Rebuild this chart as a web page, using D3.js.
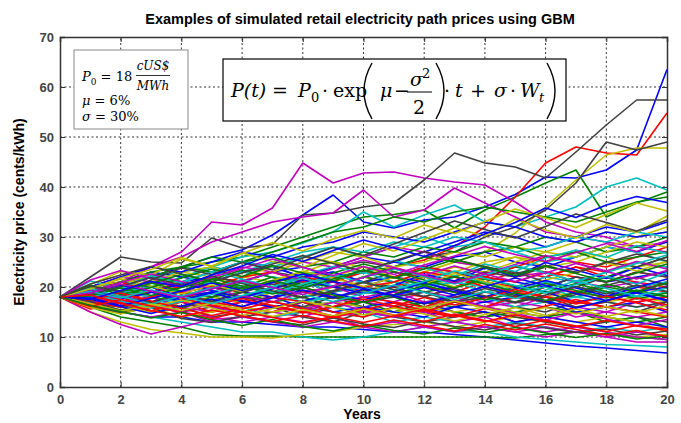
<!DOCTYPE html>
<html>
<head>
<meta charset="utf-8">
<script src="https://cdn.jsdelivr.net/npm/d3@7"></script>
<style>
  body { margin: 0; background: #fff; }
  svg { display: block; }
</style>
</head>
<body>
<svg id="chart" width="681" height="423"></svg>
<script>
const width = 681, height = 423;
const margin = { left: 60, right: 14, top: 37, bottom: 36 };

// years on the x axis
const years = [0, 1, 2, 3, 4, 5, 6, 7, 8, 9, 10, 11, 12, 13, 14, 15, 16, 17, 18, 19, 20];
const xTicks = [0, 2, 4, 6, 8, 10, 12, 14, 16, 18, 20];
const yTicks = [0, 10, 20, 30, 40, 50, 60, 70];

// MATLAB default line colour order (b g r c m y k)
const colorOrder = ["#0000ff", "#008000", "#ff0000", "#00bfbf", "#bf00bf", "#bfbf00", "#404040"];

// paths that stand out at the top and bottom of the fan
const outerPaths = [
  [18, 19, 21, 22, 24, 26, 27.4, 30.4, 34.4, 38.4, 33, 31.8, 33.4, 34, 36, 38.5, 42, 41.8, 43.4, 47.4, 63.5],
  [18, 19, 20, 22, 24, 25, 26, 28, 30, 32, 34, 34.5, 35.4, 31.8, 35.4, 38, 40.8, 43.4, 34, 36.8, 39],
  [18, 17, 18, 19, 18, 20, 19, 21, 22, 21, 23, 24, 25.4, 28, 32, 38, 44.8, 48, 46.8, 46.4, 54.8],
  [18, 19, 20, 22, 23, 24, 26, 27, 28.8, 31, 35, 32, 34.4, 36.4, 33, 32, 34, 36, 40, 41.8, 39.4],
  [18, 19, 21, 24, 27, 33, 32.4, 35.8, 44.8, 40.8, 42.8, 43, 41.8, 41, 40.4, 37, 33, 31, 30, 28, 29],
  [18, 17, 16, 17, 18, 19, 18, 20, 21, 20, 22, 21, 23, 25, 27, 30.8, 36, 41.4, 46.4, 47.8, 47.8],
  [18, 22, 26, 25, 24.8, 29.8, 27.8, 28.5, 34.4, 34.8, 36, 36.8, 41.4, 46.8, 44.8, 44, 41.8, 47, 52.4, 57.4, 57.4],
  [18, 16, 15, 14, 14, 13, 13, 12.5, 12, 12, 11.5, 11, 11, 10.5, 10, 9.4, 8.8, 8.2, 7.8, 7.3, 6.8],
  [18, 16, 14, 13, 12, 10.5, 10.2, 10.2, 10, 10, 10, 10, 10, 10, 10, 9.8, 10.5, 11, 10.5, 10, 9.5],
  [18, 19, 17, 18, 16, 17, 15, 14, 15, 16, 17, 16, 15, 14, 15, 13, 14, 16, 17, 19, 21],
  [18, 17, 15, 14, 13, 12, 11, 11, 10, 9.4, 10, 11, 12, 11, 11, 10, 9.5, 9, 8.5, 8.3, 8],
  [18, 20, 22, 24, 26, 29, 31, 33, 34, 34.8, 39.4, 34, 35.4, 39.8, 36.8, 34, 31, 30, 29, 28, 27],
  [18, 15, 13, 11.5, 10.8, 10, 10, 9.8, 10.5, 11, 12, 12.5, 13, 12, 13, 14, 13, 12, 11, 10, 10.5],
  [18, 19, 20, 21, 20, 22, 21, 23, 22, 24, 25, 24, 26, 27, 30, 32, 35.4, 40.8, 49, 47.4, 49]
];

// the dense middle of the fan
const middlePaths = [
  [18, 19, 20, 19, 21, 22, 21, 23, 24, 22, 23, 25, 24, 26, 27, 25, 24, 26, 28, 27, 29],
  [18, 17, 18, 20, 19, 18, 20, 21, 19, 20, 22, 21, 19, 20, 22, 24, 23, 21, 22, 24, 26],
  [18, 18, 17, 19, 20, 21, 19, 18, 20, 21, 19, 20, 22, 23, 21, 20, 22, 24, 23, 25, 24],
  [18, 19, 21, 20, 22, 24, 23, 25, 27, 28, 26, 28, 30, 28, 29, 27, 25, 26, 28, 27, 25],
  [18, 15, 12.5, 10.6, 12, 13.5, 14, 15, 14, 16, 17, 16, 15, 17, 16, 18, 17, 16, 15, 17, 18],
  [18, 19, 18, 20, 21, 20, 22, 21, 23, 22, 24, 23, 22, 24, 23, 25, 27, 26, 28, 30, 31],
  [18, 16, 17, 16, 15, 16, 14, 15, 16, 15, 14, 16, 17, 15, 14, 16, 15, 17, 16, 15, 17],
  [18, 20, 21, 23, 22, 21, 23, 24, 22, 24, 26, 25, 27, 29, 31, 30, 28, 30, 32, 31, 33],
  [18, 17, 16, 18, 17, 19, 18, 16, 17, 18, 16, 15, 17, 16, 18, 17, 19, 18, 20, 19, 18],
  [18, 18, 19, 17, 18, 20, 19, 21, 20, 18, 19, 21, 20, 19, 21, 23, 22, 24, 22, 21, 20],
  [18, 19, 17, 16, 18, 19, 21, 20, 22, 23, 21, 22, 20, 21, 19, 20, 22, 21, 23, 25, 24],
  [18, 17, 19, 18, 16, 15, 17, 16, 15, 17, 18, 17, 19, 18, 17, 16, 18, 20, 19, 18, 16],
  [18, 20, 19, 21, 23, 22, 20, 21, 23, 25, 24, 22, 23, 25, 24, 26, 25, 27, 26, 24, 25],
  [18, 16, 15, 17, 16, 14, 15, 16, 14, 13, 15, 14, 13, 14, 15, 14, 13, 12, 13, 14, 13],
  [18, 19, 20, 22, 21, 23, 25, 24, 22, 23, 21, 22, 24, 23, 22, 21, 20, 22, 21, 22, 23],
  [18, 17, 18, 17, 19, 18, 17, 19, 21, 20, 19, 18, 16, 17, 16, 15, 16, 15, 14, 13, 14],
  [18, 19, 18, 17, 18, 16, 17, 18, 19, 18, 17, 19, 18, 20, 22, 21, 23, 22, 21, 23, 22],
  [18, 16, 17, 15, 16, 17, 16, 14, 15, 16, 15, 13, 14, 13, 12, 13, 12, 11, 12, 11, 12],
  [18, 20, 22, 21, 20, 22, 24, 23, 25, 24, 26, 28, 27, 25, 24, 22, 23, 21, 20, 21, 19],
  [18, 17, 16, 15, 17, 18, 17, 19, 18, 20, 19, 21, 22, 20, 21, 19, 18, 19, 17, 18, 17],
  [18, 19, 21, 20, 19, 17, 18, 20, 21, 19, 20, 19, 21, 22, 24, 23, 21, 20, 22, 20, 21],
  [18, 18, 16, 17, 18, 17, 19, 18, 16, 17, 16, 17, 15, 16, 17, 18, 17, 15, 16, 17, 15],
  [18, 19, 18, 20, 19, 21, 20, 22, 21, 20, 22, 24, 26, 25, 27, 28, 30, 29, 27, 28, 30],
  [18, 17, 18, 16, 17, 15, 16, 15, 17, 16, 18, 17, 16, 18, 19, 18, 20, 19, 18, 20, 19],
  [18, 20, 19, 18, 20, 21, 23, 22, 21, 19, 20, 18, 19, 17, 18, 16, 17, 18, 17, 16, 17],
  [18, 17, 15, 16, 15, 14, 13, 14, 13, 14, 12, 13, 12, 13, 12, 11, 12, 11, 10, 11, 10],
  [18, 19, 20, 21, 23, 24, 22, 23, 25, 27, 26, 24, 25, 27, 26, 28, 27, 29, 31, 30, 32],
  [18, 16, 17, 18, 19, 18, 20, 19, 18, 19, 21, 20, 18, 17, 19, 18, 20, 22, 21, 23, 22],
  [18, 18, 19, 20, 18, 19, 17, 18, 20, 21, 20, 22, 21, 19, 18, 20, 19, 17, 18, 19, 20],
  [18, 17, 16, 17, 16, 18, 19, 17, 18, 16, 17, 15, 16, 15, 14, 15, 14, 15, 13, 14, 12],
  [18, 20, 21, 19, 20, 22, 21, 20, 22, 21, 23, 22, 24, 23, 22, 24, 26, 25, 24, 26, 28],
  [18, 17, 19, 20, 19, 17, 18, 19, 17, 18, 19, 18, 20, 21, 20, 19, 21, 20, 19, 18, 19],
  [18, 19, 17, 18, 19, 20, 18, 17, 19, 20, 18, 19, 17, 18, 16, 17, 16, 14, 15, 14, 15],
  [18, 16, 15, 16, 14, 15, 16, 15, 16, 17, 16, 15, 16, 15, 16, 15, 14, 13, 14, 13, 11],
  [18, 19, 20, 19, 21, 20, 19, 21, 22, 20, 21, 23, 22, 21, 23, 22, 24, 23, 25, 24, 26],
  [18, 17, 18, 19, 17, 16, 15, 16, 17, 15, 16, 15, 14, 16, 15, 13, 14, 13, 12, 13, 12],
  [18, 19, 21, 22, 24, 23, 25, 26, 24, 25, 27, 26, 28, 27, 29, 28, 26, 27, 25, 26, 27],
  [18, 17, 16, 18, 19, 17, 16, 18, 17, 15, 14, 16, 15, 17, 16, 18, 17, 19, 18, 17, 18],
  [18, 18, 20, 19, 18, 20, 21, 19, 20, 22, 23, 21, 20, 22, 21, 19, 20, 18, 19, 20, 21],
  [18, 16, 17, 16, 17, 16, 15, 16, 15, 14, 15, 14, 15, 13, 14, 12, 11, 12, 11, 10, 9.5],
  [18, 20, 21, 22, 21, 23, 22, 24, 26, 25, 23, 24, 22, 23, 25, 26, 24, 25, 27, 29, 28],
  [18, 19, 18, 17, 16, 17, 18, 17, 16, 18, 17, 18, 19, 17, 18, 17, 18, 16, 17, 16, 17],
  [18, 20, 22, 24, 23, 25, 27, 26, 28, 29, 31, 30, 29, 31, 33, 32, 30, 29, 31, 30, 31],
  [18, 19, 21, 23, 24, 26, 25, 27, 29, 31, 32, 34, 33, 35, 36, 35, 34, 33, 35, 37, 38],
  [18, 17, 18, 19, 21, 20, 22, 23, 21, 22, 20, 21, 23, 22, 20, 19, 18, 17, 16, 15, 14],
  [18, 19, 20, 22, 21, 23, 25, 24, 26, 28, 27, 29, 28, 30, 29, 27, 28, 30, 29, 31, 30],
  [18, 16, 15, 14, 15, 13, 14, 13, 12, 13, 12, 11, 12, 11, 12, 11, 10, 11, 10, 9, 9]
];

// more of the tangled middle band
const extraPaths = [
  [18, 20.5, 23.1, 22.4, 25.6, 24.2, 26.8, 25.1, 23.9, 26.3, 28.7, 27.2, 29.5, 31.8, 30.2, 33.6, 31.4, 29.8, 32.5, 30.9, 34.2],
  [18, 16.2, 14.8, 15.9, 13.7, 12.9, 14.2, 13.1, 12.4, 13.8, 12.6, 11.9, 13.2, 12.1, 11.4, 12.7, 11.8, 10.9, 11.6, 10.4, 11.2],
  [18, 19.4, 17.6, 18.9, 20.7, 19.3, 17.8, 19.6, 21.4, 20.1, 18.7, 20.3, 22.6, 21.2, 23.8, 22.1, 24.9, 23.4, 21.7, 23.9, 22.3],
  [18, 17.3, 19.1, 20.8, 19.2, 21.5, 23.4, 21.9, 20.3, 22.8, 24.6, 23.1, 21.4, 19.8, 21.6, 20.2, 18.9, 20.7, 19.1, 17.6, 18.8],
  [18, 15.6, 16.9, 15.2, 17.1, 16.4, 14.9, 16.3, 15.1, 13.9, 15.4, 16.8, 15.3, 14.1, 15.7, 14.4, 16.2, 17.5, 15.9, 17.8, 16.4],
  [18, 21.2, 19.7, 22.3, 20.8, 23.1, 21.6, 19.9, 22.4, 24.1, 22.7, 25.3, 23.8, 22.2, 24.6, 23.1, 25.8, 27.4, 25.9, 28.3, 26.7],
  [18, 16.8, 18.3, 16.5, 15.1, 16.7, 18.2, 17.1, 15.6, 16.9, 15.3, 14.2, 15.8, 17.3, 16.1, 14.7, 13.4, 14.9, 13.6, 12.3, 13.5],
  [18, 19.8, 21.6, 20.2, 18.6, 20.4, 19.1, 21.3, 23.2, 21.8, 20.1, 21.9, 20.5, 22.7, 21.1, 19.6, 21.4, 22.9, 24.8, 23.2, 25.1],
  [18, 17.1, 15.4, 16.8, 18.4, 17.2, 18.9, 20.6, 19.3, 17.7, 19.4, 18.1, 16.6, 17.9, 19.7, 18.3, 16.9, 18.5, 20.3, 21.9, 20.4],
  [18, 18.9, 20.4, 19.1, 17.4, 18.8, 17.3, 15.9, 17.2, 18.7, 17.4, 19.2, 20.8, 19.4, 17.9, 19.6, 21.3, 19.8, 18.2, 19.9, 21.6],
  [18, 20.1, 18.5, 19.9, 21.8, 23.6, 22.1, 24.3, 22.8, 21.2, 23.4, 21.9, 20.4, 22.1, 20.6, 19.1, 20.7, 19.3, 17.8, 19.4, 18.1],
  [18, 16.4, 17.9, 19.3, 17.8, 16.2, 17.7, 16.3, 14.8, 16.1, 17.6, 16.2, 17.9, 16.4, 17.8, 19.5, 18.1, 16.6, 18.2, 16.8, 15.4],
  [18, 18.6, 17.2, 15.8, 17.1, 18.5, 20.2, 18.8, 20.6, 22.3, 20.9, 19.4, 21.1, 23.2, 21.7, 20.3, 18.8, 20.5, 22.1, 20.6, 22.9],
  [18, 19.2, 20.9, 22.6, 21.1, 19.6, 21.2, 22.9, 21.5, 23.7, 25.4, 23.9, 22.4, 24.2, 22.6, 24.5, 26.3, 24.8, 23.2, 25.1, 23.6],
  [18, 15.9, 14.6, 16.1, 17.4, 15.8, 14.3, 15.7, 17.2, 15.9, 14.4, 15.8, 14.6, 13.2, 14.5, 15.9, 14.3, 15.6, 14.1, 15.4, 14.2],
  [18, 20.6, 22.4, 24.1, 22.6, 21.1, 22.8, 24.6, 26.3, 24.7, 23.1, 25.2, 27.1, 25.5, 24.1, 22.6, 24.3, 22.8, 24.9, 26.6, 25.2],
  [18, 17.6, 16.1, 14.7, 16.2, 17.6, 16.1, 17.8, 19.4, 17.9, 19.6, 18.2, 16.7, 18.4, 20.1, 18.6, 17.2, 15.8, 17.3, 18.9, 17.4],
  [18, 18.2, 19.8, 18.3, 19.9, 21.7, 20.2, 18.6, 19.9, 18.4, 16.9, 18.5, 20.3, 18.9, 17.4, 18.8, 17.3, 18.9, 20.6, 19.1, 20.8],
  [18, 17.4, 18.8, 17.2, 15.7, 14.3, 15.6, 17.1, 15.7, 14.2, 15.8, 14.4, 13.1, 14.6, 13.3, 12.1, 13.4, 12.2, 11.1, 12.3, 11.6],
  [18, 19.7, 18.1, 16.6, 18.2, 19.8, 21.5, 20.1, 21.8, 20.2, 21.9, 23.6, 22.1, 20.6, 22.4, 24.3, 22.8, 21.2, 22.9, 24.7, 26.4],
  [18, 21.4, 23.3, 21.7, 20.2, 21.9, 23.7, 25.6, 23.9, 22.3, 24.1, 22.5, 24.4, 26.2, 28.1, 26.5, 25.1, 26.9, 28.7, 27.1, 29.3],
  [18, 16.7, 15.2, 16.6, 15.3, 16.8, 15.4, 14.1, 15.5, 14.2, 15.6, 14.3, 15.8, 17.2, 15.8, 14.5, 15.9, 14.6, 16.1, 14.8, 16.3],
  [18, 18.5, 20.1, 21.9, 20.4, 22.2, 20.7, 19.2, 17.8, 19.3, 20.9, 19.5, 18.1, 19.7, 18.2, 16.8, 18.4, 20.1, 18.6, 20.4, 19.1],
  [18, 17.8, 16.3, 17.7, 19.2, 20.8, 19.3, 20.9, 22.6, 21.1, 19.7, 18.3, 19.9, 18.4, 20.1, 21.8, 20.3, 18.7, 17.3, 18.8, 17.2],
  [18, 20.3, 19.1, 20.7, 22.5, 21.1, 19.6, 21.3, 19.8, 21.6, 23.4, 21.8, 23.6, 25.5, 23.9, 22.3, 24.2, 22.7, 21.1, 22.8, 24.6],
  [18, 16.1, 17.5, 16.2, 14.9, 13.7, 15.1, 13.9, 12.8, 14.1, 12.9, 14.2, 15.6, 14.3, 13.1, 14.4, 13.2, 12.1, 13.3, 12.2, 11.3],
  [18, 19.1, 17.8, 19.4, 18.1, 16.7, 18.3, 19.9, 18.5, 17.1, 18.7, 20.4, 18.9, 17.5, 19.1, 17.7, 19.4, 21.2, 19.7, 18.2, 19.8],
  [18, 18.8, 20.6, 19.2, 17.9, 19.6, 21.3, 19.9, 18.5, 20.2, 21.9, 23.8, 22.3, 20.8, 22.6, 21.1, 22.8, 24.7, 23.1, 21.6, 23.3],
  [18, 19.6, 21.8, 23.5, 25.9, 24.1, 26.7, 28.9, 27.2, 29.6, 31.3, 29.8, 32.4, 30.7, 33.1, 35.6, 33.8, 31.9, 34.5, 36.8, 35.2],
  [18, 20.2, 19.1, 21.4, 23.8, 22.5, 24.9, 23.4, 25.8, 27.9, 26.3, 28.6, 30.9, 33.2, 31.5, 29.8, 32.1, 34.6, 32.9, 31.2, 33.4],
  [18, 17.5, 19.3, 21.1, 20.1, 22.4, 24.2, 26.5, 25.1, 27.3, 29.4, 27.8, 26.1, 28.3, 30.6, 32.9, 35.8, 33.9, 36.4, 38.1, 36.9],
  [18, 16.3, 15.1, 13.8, 14.9, 13.4, 12.3, 13.5, 12.1, 11.2, 12.4, 11.3, 10.6, 11.8, 10.9, 11.9, 10.8, 9.9, 10.7, 9.6, 10.2],
  [18, 18.4, 16.7, 15.3, 14.1, 15.4, 14.2, 13.1, 14.3, 13.2, 12.1, 13.4, 12.3, 11.2, 12.5, 11.4, 12.6, 11.5, 10.4, 11.3, 10.1]
];

const allPaths = outerPaths.concat(middlePaths, extraPaths);

const svg = d3.select("#chart");
const x = d3.scaleLinear().domain([0, 20]).range([margin.left, width - margin.right]);
const y = d3.scaleLinear().domain([0, 70]).range([height - margin.bottom, margin.top]);
const x0 = x.range()[0], x1 = x.range()[1], y0 = y.range()[0], y1 = y.range()[1];

// title
svg.append("text")
  .attr("x", 360).attr("y", 24)
  .attr("text-anchor", "middle")
  .style("font", "bold 14.5px 'Liberation Sans', Arial, sans-serif")
  .text("Examples of simulated retail electricity path prices using GBM");

// dotted grid
const grid = svg.append("g").attr("stroke", "#333").attr("stroke-width", 1).attr("stroke-dasharray", "2,2.5");
xTicks.slice(1, -1).forEach(t => grid.append("line").attr("x1", x(t)).attr("x2", x(t)).attr("y1", y0).attr("y2", y1));
yTicks.slice(1, -1).forEach(t => grid.append("line").attr("y1", y(t)).attr("y2", y(t)).attr("x1", x0).attr("x2", x1));

// the simulated paths
const line = d3.line().x((d, i) => x(years[i])).y(d => y(d));
svg.append("g").attr("fill", "none").attr("stroke-width", 1.6).attr("stroke-linejoin", "round")
  .selectAll("path").data(allPaths).join("path")
  .attr("stroke", (d, i) => colorOrder[i % colorOrder.length])
  .attr("d", line);

// frame and inward ticks
const tickFont = "13px 'Liberation Sans Narrow', 'Liberation Sans', Arial, sans-serif";
svg.append("g").attr("transform", `translate(0,${y0})`)
  .call(d3.axisBottom(x).tickValues(xTicks).tickSize(-5).tickPadding(8));
svg.append("g").attr("transform", `translate(${x0},0)`)
  .call(d3.axisLeft(y).tickValues(yTicks).tickSize(-5).tickPadding(6));
svg.append("g").attr("transform", `translate(0,${y1})`)
  .call(d3.axisTop(x).tickValues(xTicks).tickSize(-5).tickFormat(""));
svg.append("g").attr("transform", `translate(${x1},0)`)
  .call(d3.axisRight(y).tickValues(yTicks).tickSize(-5).tickFormat(""));
svg.selectAll(".domain").attr("stroke", "#333").attr("stroke-width", 1.5);
svg.selectAll(".tick line").attr("stroke", "#333");
svg.selectAll(".tick text").attr("fill", "#444").style("font", tickFont).style("font-weight", "bold");

// axis titles
svg.append("text")
  .attr("x", 362).attr("y", 419)
  .attr("text-anchor", "middle")
  .style("font", "bold 14px 'Liberation Sans', Arial, sans-serif")
  .text("Years");
svg.append("text")
  .attr("transform", `translate(24,${(y0 + y1) / 2}) rotate(-90)`)
  .attr("text-anchor", "middle")
  .style("font", "bold 14px 'Liberation Sans', Arial, sans-serif")
  .text("Electricity price (cents/kWh)");

// parameter box
const serif = "'DejaVu Serif', 'Liberation Serif', serif";
const pbox = svg.append("g");
pbox.append("rect").attr("x", 74).attr("y", 50).attr("width", 114).attr("height", 79)
  .attr("fill", "#fff").attr("stroke", "#888").attr("stroke-width", 1);
const ptxt = pbox.append("text").style("font", `italic 13px ${serif}`).attr("x", 82).attr("y", 81);
ptxt.append("tspan").text("P");
ptxt.append("tspan").attr("dy", 4).style("font-size", "9px").style("font-style", "normal").text("0");
ptxt.append("tspan").attr("dy", -4).style("font-style", "normal").text(" = 18");
pbox.append("text").attr("x", 153).attr("y", 70).attr("text-anchor", "middle")
  .style("font", `italic 12px ${serif}`).text("cUS$");
pbox.append("line").attr("x1", 136).attr("x2", 170).attr("y1", 75.5).attr("y2", 75.5).attr("stroke", "#000").attr("stroke-width", 0.8);
pbox.append("text").attr("x", 153).attr("y", 90).attr("text-anchor", "middle")
  .style("font", `italic 12px ${serif}`).text("MWh");
const mu = pbox.append("text").style("font", `13px ${serif}`).attr("x", 82).attr("y", 105);
mu.append("tspan").style("font-style", "italic").text("μ");
mu.append("tspan").text(" = 6%");
const sg = pbox.append("text").style("font", `13px ${serif}`).attr("x", 82).attr("y", 121);
sg.append("tspan").style("font-style", "italic").text("σ");
sg.append("tspan").text(" = 30%");

// formula box
const fbox = svg.append("g");
fbox.append("rect").attr("x", 223).attr("y", 59).attr("width", 343).attr("height", 62)
  .attr("fill", "#fff").attr("stroke", "#000").attr("stroke-width", 1.2);
const fFont = `italic 19px ${serif}`;
const fPart = (tx, s, style) => fbox.append("text").attr("x", tx).attr("y", 97)
  .style("font", style || fFont).text(s);
fPart(231, "P(t)");
fPart(272, "=", `19px ${serif}`);
fPart(298, "P");
fPart(311, "0", `13px ${serif}`).attr("y", 102);
fPart(322, "·", `19px ${serif}`);
fPart(333, "exp", `19px ${serif}`);
fPart(380, "μ");
fPart(394, "−", `19px ${serif}`);
fPart(410, "σ").attr("y", 86);
fPart(422, "2", `13px ${serif}`).attr("y", 78);
fbox.append("line").attr("x1", 407).attr("x2", 432).attr("y1", 92).attr("y2", 92).attr("stroke", "#000").attr("stroke-width", 1);
fPart(413, "2", `19px ${serif}`).attr("y", 114);
fPart(444, "·", `19px ${serif}`);
fPart(455, "t");
fPart(470, "+", `19px ${serif}`);
fPart(494, "σ");
fPart(510, "·", `19px ${serif}`);
fPart(520, "W");
fPart(539, "t", `italic 13px ${serif}`).attr("y", 102);
// tall parentheses
const paren = (px, dir) => fbox.append("path")
  .attr("d", `M${px},63 Q${px - dir * 16},91 ${px},119`)
  .attr("fill", "none").attr("stroke", "#000").attr("stroke-width", 1.4);
paren(372, 1);
paren(436, -1);
paren(547, -1);
</script>
</body>
</html>
